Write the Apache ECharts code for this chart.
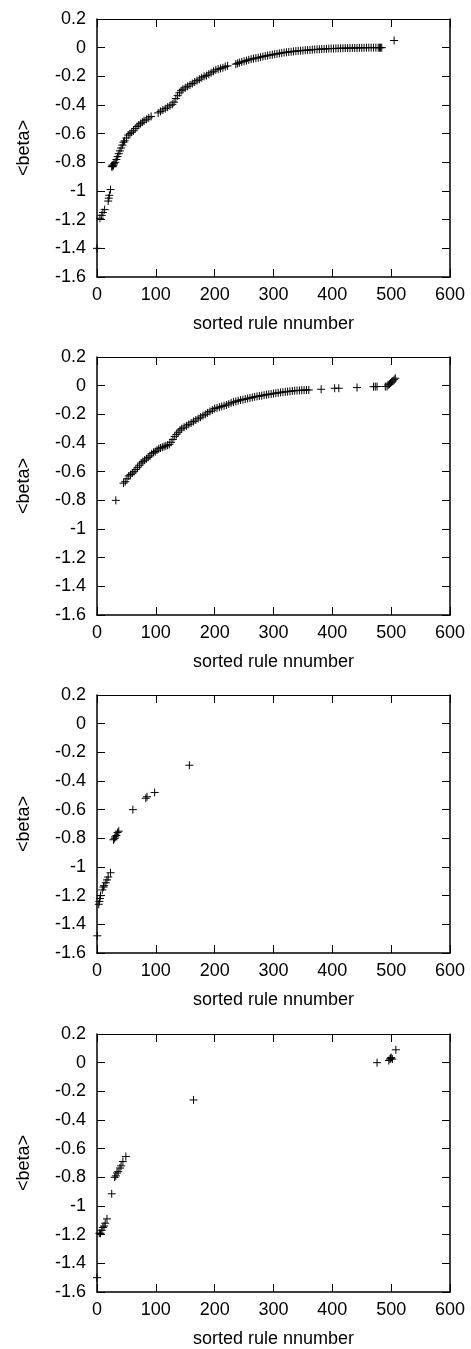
<!DOCTYPE html>
<html>
<head>
<meta charset="utf-8">
<script src="https://cdn.jsdelivr.net/npm/echarts@6/dist/echarts.min.js"></script>
<style>
  html, body { margin: 0; padding: 0; background: #fff; }
  #chart { width: 471px; height: 1349px; }
</style>
</head>
<body>
<div id="chart"></div>
<script>
// ---- data (x = sorted rule number, y = <beta>) ----
const xTicks = [0, 100, 200, 300, 400, 500, 600];
const yTicks = [-1.6, -1.4, -1.2, -1, -0.8, -0.6, -0.4, -0.2, 0, 0.2];

const panel1X = [0,5,8,10,13,19,20,21,23,25,26,27,28,29,31,33,35,37,39,41,43,45,47,50,53,56,59,62,65,68,71,74,77,80,84,88,92,104,108,112,116,120,124,128,131,134,137,140,143,146,150,154,158,162,166,170,174,178,182,186,190,194,198,202,206,210,214,218,222,236,239,242,246,250,254,258,262,266,270,274,278,282,286,290,294,298,302,306,310,314,318,322,326,330,334,338,342,346,350,354,358,362,366,370,374,378,382,386,390,394,398,402,406,410,414,418,422,426,430,434,438,442,446,450,454,458,462,466,470,474,478,480,482,484,505];
const panel1Y = [-1.40,-1.19,-1.17,-1.15,-1.13,-1.07,-1.05,-1.03,-0.99,-0.83,-0.82,-0.83,-0.82,-0.81,-0.80,-0.78,-0.76,-0.74,-0.72,-0.70,-0.68,-0.66,-0.65,-0.63,-0.61,-0.60,-0.59,-0.58,-0.565,-0.55,-0.54,-0.53,-0.52,-0.51,-0.50,-0.49,-0.48,-0.455,-0.445,-0.435,-0.425,-0.415,-0.405,-0.395,-0.38,-0.355,-0.335,-0.315,-0.30,-0.29,-0.28,-0.27,-0.26,-0.25,-0.24,-0.23,-0.22,-0.21,-0.20,-0.195,-0.185,-0.175,-0.165,-0.155,-0.15,-0.145,-0.14,-0.132,-0.127,-0.115,-0.11,-0.105,-0.10,-0.095,-0.09,-0.085,-0.08,-0.077,-0.073,-0.07,-0.066,-0.062,-0.058,-0.055,-0.052,-0.049,-0.046,-0.043,-0.040,-0.037,-0.034,-0.032,-0.030,-0.028,-0.026,-0.024,-0.022,-0.021,-0.020,-0.018,-0.017,-0.016,-0.014,-0.013,-0.012,-0.011,-0.010,-0.009,-0.008,-0.007,-0.006,-0.006,-0.005,-0.005,-0.004,-0.004,-0.003,-0.003,-0.003,-0.002,-0.002,-0.002,-0.001,-0.001,-0.001,0,0,0,0,0,0,0,0,0,0.05];

const panel2X = [32,45,48,51,54,57,60,63,66,69,72,75,78,81,84,87,90,93,96,99,102,105,108,111,114,117,120,123,126,129,132,135,138,141,144,148,152,156,160,164,168,172,176,180,184,188,192,196,200,204,208,212,216,220,224,228,232,236,240,244,248,252,256,260,264,268,272,276,280,284,288,292,296,300,304,308,312,316,320,324,328,332,336,340,344,348,352,356,360,381,404,411,442,470,473,476,490,493,495,497,499,501,503,505,507];
const panel2Y = [-0.80,-0.68,-0.67,-0.65,-0.63,-0.62,-0.61,-0.60,-0.585,-0.57,-0.555,-0.54,-0.53,-0.52,-0.51,-0.50,-0.49,-0.475,-0.465,-0.46,-0.45,-0.44,-0.435,-0.43,-0.425,-0.42,-0.415,-0.41,-0.395,-0.375,-0.355,-0.34,-0.325,-0.31,-0.30,-0.29,-0.28,-0.27,-0.26,-0.25,-0.24,-0.23,-0.22,-0.21,-0.20,-0.19,-0.18,-0.17,-0.16,-0.155,-0.15,-0.145,-0.14,-0.135,-0.128,-0.12,-0.115,-0.11,-0.105,-0.10,-0.097,-0.093,-0.09,-0.086,-0.082,-0.078,-0.075,-0.072,-0.07,-0.066,-0.063,-0.06,-0.058,-0.055,-0.052,-0.05,-0.047,-0.045,-0.043,-0.041,-0.039,-0.037,-0.035,-0.034,-0.033,-0.032,-0.031,-0.030,-0.030,-0.025,-0.018,-0.018,-0.013,-0.007,-0.007,-0.006,-0.006,-0.006,0.005,0.01,0.018,0.025,0.033,0.042,0.052];

const panel3X = [0.5,3,4,5,6,9,11,12,15,17,19,23,28,30,31,33,35,37,61,83,85,98,157];
const panel3Y = [-1.48,-1.26,-1.24,-1.22,-1.20,-1.16,-1.14,-1.13,-1.11,-1.09,-1.07,-1.04,-0.81,-0.80,-0.79,-0.78,-0.76,-0.75,-0.60,-0.52,-0.51,-0.48,-0.29];

const panel4X = [0,4,6,8,10,12,14,17,25,30,32,34,36,39,41,44,49,164,476,496,498,499,500,502,508];
const panel4Y = [-1.50,-1.19,-1.19,-1.17,-1.15,-1.14,-1.12,-1.09,-0.915,-0.80,-0.79,-0.77,-0.76,-0.735,-0.72,-0.69,-0.655,-0.26,0,0.015,0.025,0.03,0.035,0.025,0.09];

const panelsX = [panel1X, panel2X, panel3X, panel4X];
const panelsY = [panel1Y, panel2Y, panel3Y, panel4Y];

const xTitle = 'sorted rule nnumber';
const yTitle = '<beta>';

// ---- layout / styling ----
const FONT = 'Liberation Sans, Arial, Helvetica, sans-serif';
const gridTops = [19, 357, 695, 1034];
const grids = [], xAxes = [], yAxes = [], series = [];

const fmtY = v => String(Math.round(v * 10) / 10);

gridTops.forEach((top, i) => {
  grids.push({ left: 97, width: 353, top: top, height: 258, containLabel: false });
  const xBase = {
    gridIndex: i, type: 'value',
    min: xTicks[0], max: xTicks[xTicks.length - 1], interval: 100,
    splitLine: { show: false },
    axisTick: { show: true, inside: true, length: 8, lineStyle: { color: '#000', width: 1 } }
  };
  xAxes.push(Object.assign({}, xBase, {
    position: 'bottom',
    axisLine: { show: true, onZero: false, lineStyle: { color: '#000', width: 1.5 } },
    axisLabel: { show: true, color: '#000', fontSize: 18, fontFamily: FONT, margin: 9 },
    name: xTitle, nameLocation: 'middle', nameGap: 38,
    nameTextStyle: { color: '#000', fontSize: 18, fontFamily: FONT }
  }));
  xAxes.push(Object.assign({}, xBase, {
    position: 'top',
    axisLine: { show: true, onZero: false, lineStyle: { color: '#000', width: 1 } },
    axisLabel: { show: false }
  }));
  const yBase = {
    gridIndex: i, type: 'value',
    min: yTicks[0], max: yTicks[yTicks.length - 1], interval: 0.2,
    splitLine: { show: false },
    axisTick: { show: true, inside: true, length: 8, lineStyle: { color: '#000', width: 1 } }
  };
  yAxes.push(Object.assign({}, yBase, {
    position: 'left',
    axisLine: { show: true, onZero: false, lineStyle: { color: '#000', width: 1.5 } },
    axisLabel: { show: true, color: '#000', fontSize: 18, fontFamily: FONT, margin: 11, formatter: fmtY },
    name: yTitle, nameLocation: 'middle', nameGap: 64, nameRotate: 90,
    nameTextStyle: { color: '#000', fontSize: 18, fontFamily: FONT }
  }));
  yAxes.push(Object.assign({}, yBase, {
    position: 'right',
    axisLine: { show: true, onZero: false, lineStyle: { color: '#000', width: 1.5 } },
    axisLabel: { show: false }
  }));
  series.push({
    type: 'scatter',
    xAxisIndex: 2 * i, yAxisIndex: 2 * i,
    symbol: 'path://M0,5L10,5M5,0L5,10',
    symbolSize: 8,
    itemStyle: { color: '#000', borderColor: '#000', borderWidth: 1, opacity: 1 },
    data: panelsX[i].map((x, k) => [x, panelsY[i][k]]),
    silent: true
  });
});

const chart = echarts.init(document.getElementById('chart'), null, { renderer: 'canvas' });
chart.setOption({
  animation: false,
  backgroundColor: '#fff',
  grid: grids,
  xAxis: xAxes,
  yAxis: yAxes,
  series: series
});
</script>
</body>
</html>
